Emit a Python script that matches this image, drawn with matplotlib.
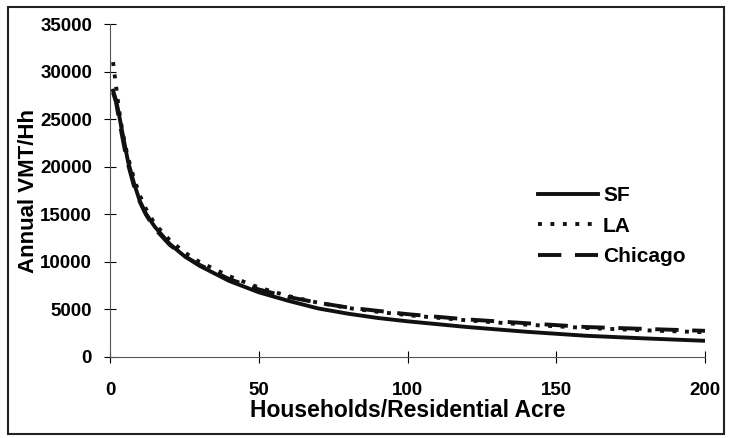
import numpy as np
import matplotlib.pyplot as plt
from matplotlib.patches import Rectangle

plt.rcParams['font.family'] = ['Liberation Sans', 'DejaVu Sans']
plt.rcParams['font.weight'] = 'bold'

# households per residential acre
density = [1, 2, 3, 4, 5, 6, 8, 10, 12, 15, 20, 25, 30, 40, 50, 60, 70,
           80, 90, 100, 120, 140, 160, 180, 200]

# annual VMT per household
vmt_sf = [28000, 27000, 25500, 23800, 22200, 20600, 18300, 16400, 15100,
          13700, 11900, 10600, 9600, 8000, 6800, 5900, 5100, 4550, 4100,
          3750, 3150, 2650, 2230, 1950, 1700]
vmt_la = [31000, 28500, 26000, 24000, 22400, 21000, 18800, 17000, 15600,
          14000, 12300, 11000, 10000, 8500, 7300, 6400, 5700, 5150, 4750,
          4400, 3850, 3400, 3050, 2800, 2600]
vmt_chicago = [27800, 26800, 25000, 23300, 21700, 20300, 18000, 16300,
               15000, 13500, 11800, 10600, 9700, 8200, 7100, 6300, 5700,
               5200, 4850, 4500, 3950, 3550, 3150, 2950, 2750]

x_ticks = [0, 50, 100, 150, 200]
y_ticks = [0, 5000, 10000, 15000, 20000, 25000, 30000, 35000]

fig = plt.figure(figsize=(7.29, 4.38), dpi=100)
ax = fig.add_axes([0.151, 0.185, 0.816, 0.76])

ax.plot(density, vmt_sf, color='#111111', lw=2.8, ls='-', label='SF')
ax.plot(density, vmt_la, color='#111111', lw=2.8, ls=(0, (1, 2.2)), label='LA')
ax.plot(density, vmt_chicago, color='#111111', lw=2.8, ls=(0, (6, 3.5)),
        label='Chicago')

ax.set_xlim(0, 200)
ax.set_ylim(0, 35000)
ax.set_xticks(x_ticks)
ax.set_yticks(y_ticks)
ax.tick_params(direction='inout', length=8, width=0.8, labelsize=13.5)
ax.tick_params(axis='x', pad=14)
ax.tick_params(axis='y', pad=9)

for s in ['top', 'right']:
    ax.spines[s].set_visible(False)
for s in ['left', 'bottom']:
    ax.spines[s].set_linewidth(0.8)
    ax.spines[s].set_color('#555555')

ax.set_xlabel('Households/Residential Acre', fontsize=16.5, fontweight='bold',
              labelpad=0)
ax.set_ylabel('Annual VMT/Hh', fontsize=16, fontweight='bold', labelpad=1)

ax.legend(loc='center left', bbox_to_anchor=(528 / 729, 1 - 226 / 438),
          bbox_transform=fig.transFigure, frameon=False, fontsize=15,
          handlelength=2.85, labelspacing=0.55, handletextpad=0.25,
          borderpad=0)

# frame round the whole figure
fig.patches.append(Rectangle((0.011, 0.008), 0.982, 0.977, fill=False,
                             lw=1.5, ec='#222222', transform=fig.transFigure))

plt.savefig('out.png', dpi=100)
